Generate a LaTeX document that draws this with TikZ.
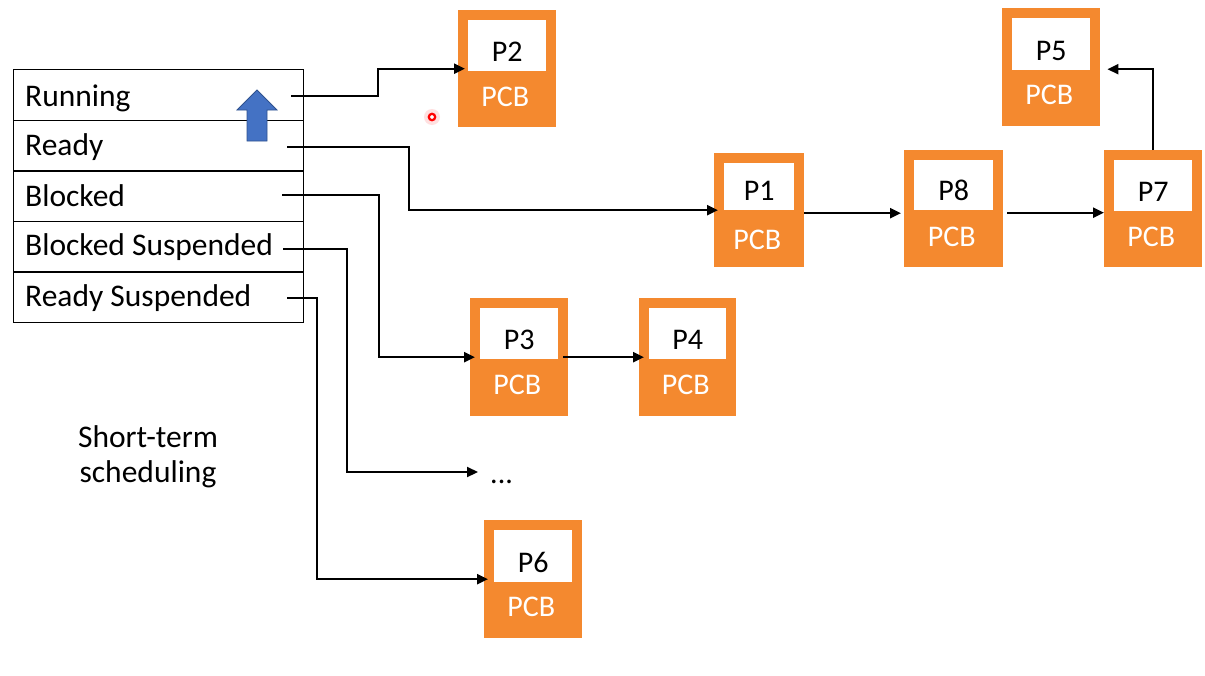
\documentclass[tikz,border=0pt]{standalone}
\usepackage{fontspec}
\setmainfont{Carlito}
\usetikzlibrary{arrows.meta}
\definecolor{pcborange}{HTML}{F4892F}
\definecolor{arrowblue}{HTML}{4472C4}
\definecolor{arrowedge}{HTML}{2F528F}
\tikzset{
 conn/.style={line width=2.2pt, -{Triangle[length=11pt,width=10pt]}},
 cell/.style={draw, line width=1.3pt, minimum width=290pt, minimum height=50.6pt, anchor=north west, inner sep=0pt},
 bigfont/.style={font=\fontsize{30}{36}\selectfont},
 tabfont/.style={font=\fontsize{31.5}{38}\selectfont},
 rowtxt/.style={tabfont, anchor=base west, inner sep=0pt},
 pcbbox/.style={fill=pcborange, anchor=north west, inner sep=0pt, draw=none},
 pcbin/.style={fill=white, anchor=north west, inner sep=0pt, draw=none},
 plabel/.style={bigfont, anchor=base, inner sep=0pt},
 pcbtxt/.style={bigfont, anchor=base, inner sep=0pt, text=white},
}
% name, left x, top y, width, height, inner height, label
\newcommand\pcbproc[7]{%
 \pgfmathsetmacro\pcbinw{#4-20}%
 \node[pcbbox, minimum width=#4pt, minimum height=#5pt] (#1) at (#2,#3) {};
 \node[pcbin, minimum width=\pcbinw pt, minimum height=#6pt] (#1-in) at ([shift={(10,10)}]#1.north west) {};
 \node[plabel] (#1-lbl) at ([yshift=10pt]#1-in.south) {#7};
 \node[pcbtxt] (#1-pcb) at ([xshift=-2pt,yshift=-96pt]#1.north) {PCB};
}
\begin{document}
\begin{tikzpicture}[x=1pt,y=-1pt]
\useasboundingbox (0,0) rectangle (1205,675);
\fill[white] (0,0) rectangle (1205,675);

% process boxes
\pcbproc{p2}{458}{10}{98}{117}{51}{P2}
\pcbproc{p1}{714}{153}{90}{114}{47}{P1}
\pcbproc{p8}{904}{150}{99}{117}{50}{P8}
\pcbproc{p7}{1104}{150}{98}{117}{51}{P7}
\pcbproc{p5}{1002}{8}{98}{118}{52}{P5}
\pcbproc{p3}{470}{298}{98}{118}{51}{P3}
\pcbproc{p4}{639}{298}{97}{118}{51}{P4}
\pcbproc{p6}{484}{520}{98}{118}{52}{P6}

% state table
\node[cell] (rowrun) at (13,69) {};
\node[cell] (rowrdy) at (13,119.6) {};
\node[cell] (rowblk) at (13,170.2) {};
\node[cell] (rowbls) at (13,220.8) {};
\node[cell] (rowrds) at (13,271.4) {};
\node[rowtxt] (trun) at (25,106) {Running};
\node[rowtxt] (trdy) at (25,155) {Ready};
\node[rowtxt] (tblk) at (25,206) {Blocked};
\node[rowtxt] (tbls) at (25,255) {Blocked Suspended};
\node[rowtxt] (trds) at (25,306) {Ready Suspended};

% blue up arrow
\draw[fill=arrowblue, draw=arrowedge, line width=0.8pt, line join=miter]
 (257,90) -- (277,110) -- (267,110) -- (267,141) -- (247,141) -- (247,110) -- (237,110) -- cycle;

% connector starts
\coordinate (s1) at (291,96);
\coordinate (s2) at (287,147);
\coordinate (s3) at (282,195);
\coordinate (s4) at (283,249);
\coordinate (s5) at (287,298);
\coordinate (dotsin) at (478,472);
\node[bigfont, anchor=base west, inner sep=0pt] (dots) at (490,483) {...};

\draw[conn] (s1) -- (378,96) |- ([xshift=7pt]p2.west);
\draw[conn] (s2) -- (409,147) |- ([xshift=4pt]p1.west);
\draw[conn] (s3) -- (379,195) |- ([xshift=5pt]p3.west);
\draw[conn] (s4) -- (347,249) |- (dotsin);
\draw[conn] (s5) -- (317,298) |- ([xshift=4pt]p6.west);

\draw[conn] ([yshift=-3pt]p1.east) -- ([yshift=-3pt,xshift=-3pt]p1.east -| p8.west);
\draw[conn] ([yshift=-4pt,xshift=4pt]p8.east) -- ([yshift=-4pt]p8.east -| p7.west);
\draw[conn] ([xshift=-5pt]p3.east) -- ([xshift=5pt]p4.west);
\draw[conn] (p7.north) |- ([xshift=7pt,yshift=-2pt]p5.east);

% label
\node[tabfont, align=center, inner sep=0pt] (stlbl) at (148,457) {Short-term\\[-3pt]scheduling};

% red pointer dot
\fill[red!20, opacity=0.6] (432,117) circle (8);
\draw[red, line width=2.2pt, fill=white] (432,117) circle (3.2);
\end{tikzpicture}
\end{document}
